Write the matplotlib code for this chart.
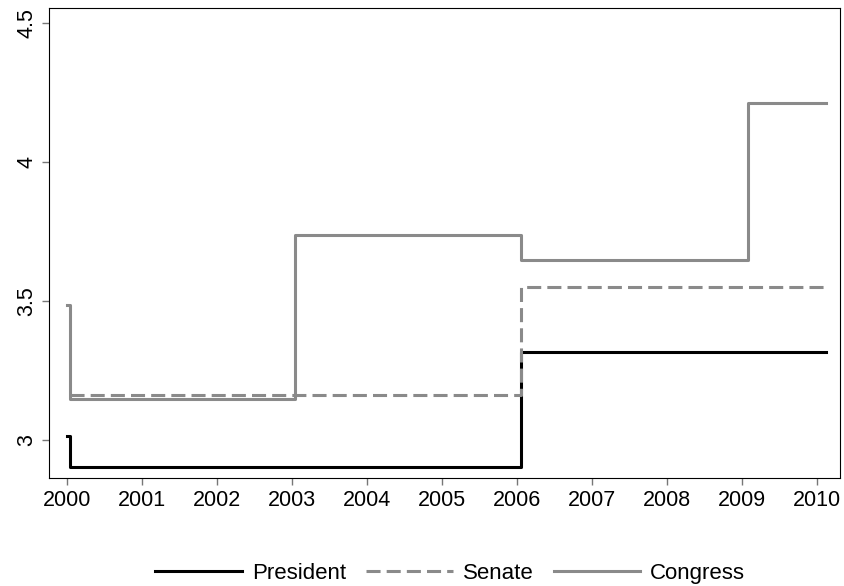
import matplotlib
matplotlib.use("Agg")
import matplotlib.pyplot as plt

plt.rcParams['font.family'] = ['Liberation Sans', 'DejaVu Sans']

# step data (value holds from each x until the next one)
pres_x = [2000.0, 2000.04, 2006.05, 2010.13]
pres_y = [3.014, 2.905, 3.317, 3.317]

sen_x = [2000.04, 2006.05, 2010.13]
sen_y = [3.162, 3.551, 3.551]

cong_x = [2000.0, 2000.04, 2003.04, 2006.05, 2009.08, 2010.13]
cong_y = [3.486, 3.147, 3.738, 3.648, 4.213, 4.213]

xticks = list(range(2000, 2011))
yticks = [3, 3.5, 4, 4.5]
ylabels = ['3', '3.5', '4', '4.5']

gray = '#8a8a8a'

fig = plt.figure(figsize=(8.45, 5.86), dpi=100)
ax = fig.add_axes([0.058, 0.184, 0.936, 0.802])

ax.step(pres_x, pres_y, where='post', color='black', lw=2.2, label='President')
ax.step(sen_x, sen_y, where='post', color=gray, lw=2.2, ls=(0, (4.6, 2)), label='Senate')
ax.step(cong_x, cong_y, where='post', color=gray, lw=2.2, label='Congress')

ax.set_xlim(1999.76, 2010.31)
ax.set_ylim(2.863, 4.554)
ax.set_xticks(xticks)
ax.set_yticks(yticks)
ax.set_yticklabels(ylabels, rotation=90, va='center')
ax.tick_params(labelsize=15.5, length=5, color='#777777', width=1)
for s in ax.spines.values():
    s.set_linewidth(0.8)
    s.set_color('black')

fig.legend(loc='lower center', ncol=3, frameon=False, fontsize=16,
           handlelength=3.9, handletextpad=0.45, columnspacing=0.9,
           bbox_to_anchor=(0.533, -0.03))

fig.savefig('out.png', dpi=100)
